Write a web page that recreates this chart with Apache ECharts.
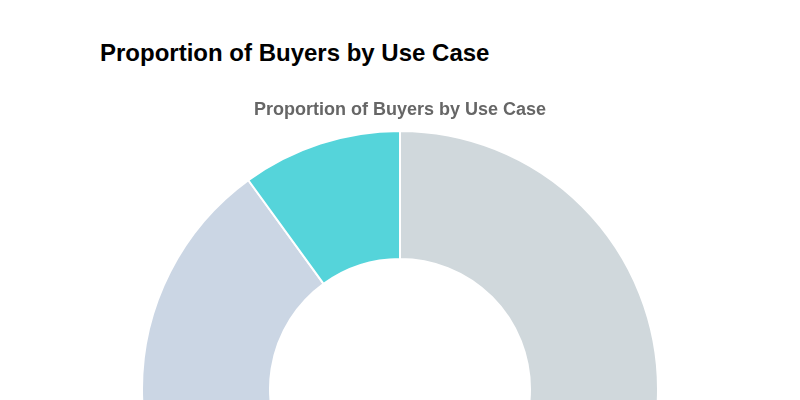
<!DOCTYPE html>
<html>
<head>
<meta charset="utf-8">
<script src="https://cdn.jsdelivr.net/npm/echarts@6/dist/echarts.min.js"></script>
<style>
    html, body { margin: 0; padding: 0; background: #fff; overflow: hidden; }
    h2 {
        position: absolute; left: 100px; top: 38px; margin: 0;
        font-family: "Liberation Sans", Arial, sans-serif;
        font-size: 24px; font-weight: bold; color: #000; line-height: 30px;
    }
    #chart { position: absolute; left: 0; top: 0; width: 800px; height: 400px; }
</style>
</head>
<body>
<h2>Proportion of Buyers by Use Case</h2>
<div id="chart"></div>
<script>
// data (lower half is cut off, so those splits are estimates)
var useCases = ['Personal Use', 'Business Use', 'Gift']
var buyerShare = [50, 40, 10]
var sliceColors = ['#d0d8dc', '#cbd6e4', '#55d4da']

var chart = echarts.init(document.getElementById('chart'))
var option = {
    title: {
        text: 'Proportion of Buyers by Use Case',
        left: 'center',
        top: 96,
        textStyle: {
            fontFamily: 'Liberation Sans',
            fontSize: 18,
            fontWeight: 'bold',
            color: '#666'
        }
    },
    tooltip: { trigger: 'item' },
    series: [
        {
            type: 'pie',
            center: [400, 389],
            radius: [130, 258],
            startAngle: 90,
            label: { show: false },
            labelLine: { show: false },
            itemStyle: { borderColor: '#fff', borderWidth: 2 },
            data: useCases.map((name, i) => ({
                name: name,
                value: buyerShare[i],
                itemStyle: { color: sliceColors[i] }
            }))
        }
    ]
}
chart.setOption(option)
</script>
</body>
</html>
